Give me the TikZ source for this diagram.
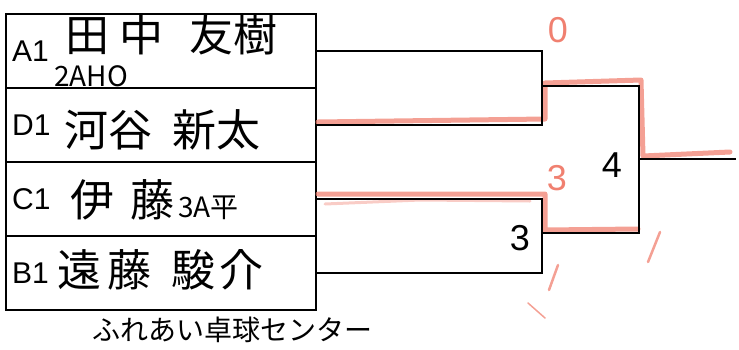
\documentclass[tikz,border=0pt]{standalone}
\usepackage{fontspec}
\setmainfont{Liberation Sans}
\newfontfamily\jpfont{Noto Sans CJK JP}
\usetikzlibrary{positioning}
\definecolor{pencil}{RGB}{240,128,112}

\begin{document}
\begin{tikzpicture}[x=1pt,y=-1pt,
    row/.style={draw,line width=1.6pt,minimum width=310pt,minimum height=74pt,inner sep=0pt,anchor=north west},
    seed/.style={font=\fontsize{30}{30}\selectfont,inner sep=0pt},
    jpname/.style={font=\jpfont\fontsize{44}{44}\selectfont,inner sep=0pt,anchor=west},
    jpnote/.style={font=\jpfont\fontsize{28}{28}\selectfont,inner sep=0pt,anchor=west},
    bline/.style={line width=1.6pt},
    hl/.style={pencil,line width=5pt,opacity=.75,line cap=round,line join=round},
    score/.style={font=\fontsize{36}{36}\selectfont,inner sep=0pt}]
    \useasboundingbox (0,0) rectangle (739,349);
    % entry table
    \node[row] (a1) at (5,13) {};
    \node[row] (d1) at (5,87) {};
    \node[row] (c1) at (5,161) {};
    \node[row] (b1) at (5,235) {};
    \node[seed,right=7pt of a1.west] (a1s) {A1};
    \node[seed,right=7pt of d1.west] (d1s) {D1};
    \node[seed,right=7pt of c1.west] (c1s) {C1};
    \node[seed,right=7pt of b1.west] (b1s) {B1};
    \node[jpname] (a1n) at (65,35) {田\hspace{10pt}中\hspace{26pt}友樹};
    \node[jpnote] (a1t) at (54,76) {2AHO};
    \node[jpname] (d1n) at (64,130) {河谷\hspace{20pt}新太};
    \node[jpname] (c1n) at (70,200) {伊\hspace{16pt}藤};
    \node[jpnote] (c1t) at (178,208) {3A平};
    \node[jpname] (b1n) at (57,270) {遠\hspace{6pt}藤\hspace{20pt}駿\hspace{4pt}介};
    \node[font=\jpfont\fontsize{28}{28}\selectfont,inner sep=0pt] (venue) at (232,330) {ふれあい卓球センター};
    % pencil marks
    \draw[hl] (318,122) -- (545,119) -- (545,83) -- (641,80) -- (643,156) -- (730,152);
    \draw[hl] (318,194) -- (545,194) -- (545,230) -- (638,229);
    \draw[hl,line width=3pt,opacity=.4] (325,204) -- (420,200) -- (530,201);
    \draw[hl,line width=2.5pt] (549,290) -- (558,265);
    \draw[hl,line width=2.5pt] (648,262) -- (660,232);
    \draw[hl,line width=1.5pt] (528,303) -- (545,318);
    % bracket
    \coordinate (sf1) at (542,86);
    \coordinate (sf2) at (542,233);
    \coordinate (fin) at (639,159);
    \coordinate (win) at (736,159);
    \draw[bline] (a1.east) -| (sf1) |- (d1.east);
    \draw[bline] (c1.east) -| (sf2) |- (b1.east);
    \draw[bline] (sf1) -| (fin) |- (sf2);
    \draw[bline] (fin) -- (win);
    % scores
    \node[score,pencil] (a1p) at (558,30) {0};
    \node[score,pencil] (c1p) at (557,178) {3};
    \node[score] (b1p) at (520,238) {3};
    \node[score] (finp) at (612,165) {4};
\end{tikzpicture}
\end{document}
